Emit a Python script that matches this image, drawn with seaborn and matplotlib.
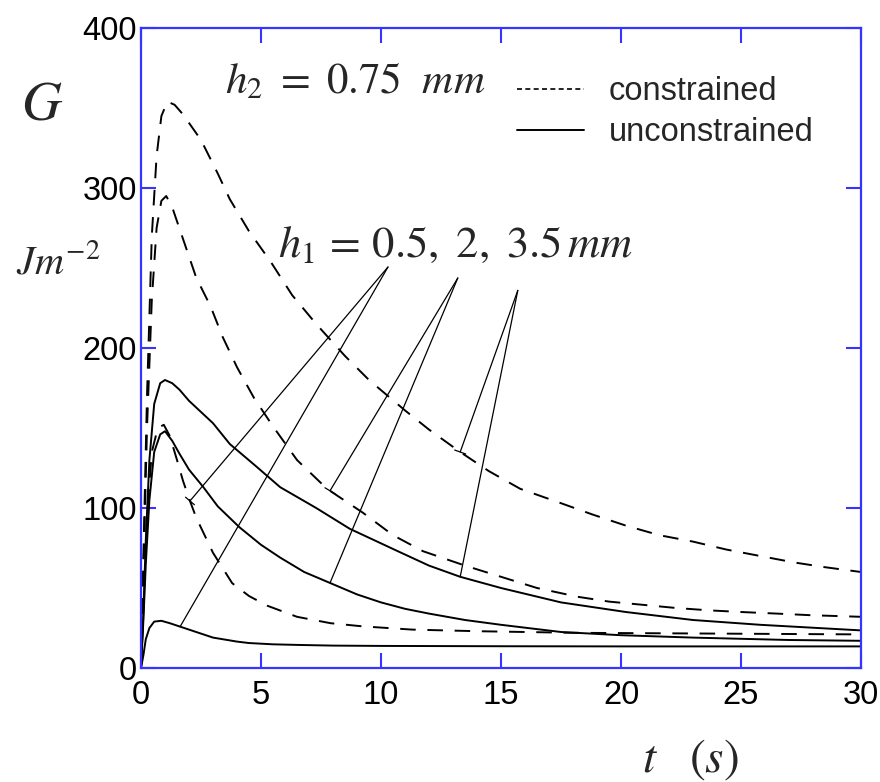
import numpy as np
import pandas as pd
import matplotlib
matplotlib.use("Agg")
import matplotlib.pyplot as plt
from matplotlib.lines import Line2D
import seaborn as sns

# Energy release rate G (J/m^2) versus time t (s), h2 = 0.75 mm
# constrained (dashed) and unconstrained (solid) cases for h1 = 0.5, 2, 3.5 mm

t_c35 = [0, 0.1, 0.25, 0.45, 0.65, 0.85, 1.1, 1.4, 1.75, 2.5, 3.2, 3.7, 4.5, 5.4, 6.3, 7.3,
         8.5, 9.5, 11, 12, 13.3, 14.5, 15.8, 17.5, 18.8, 20.2, 21.6, 23, 24.4, 25.8, 27.2, 28.5, 30]
g_c35 = [0, 70, 170, 270, 320, 345, 354, 352, 346, 330, 309, 293, 273, 254, 233, 215,
         195, 180, 161, 149, 135, 123, 112, 103, 96, 89, 83, 79, 74, 70, 66, 63, 60]

t_c20 = [0, 0.1, 0.25, 0.45, 0.65, 0.85, 1.05, 1.3, 1.8, 2.3, 2.9, 3.4, 4, 4.7, 5.5, 6.5, 7.75,
         9.25, 10.5, 11.75, 13.5, 15, 16.5, 18.2, 19.5, 20.9, 22.3, 23.7, 25, 26.5, 27.9, 30]
g_c20 = [0, 60, 150, 230, 275, 292, 295, 288, 266, 244, 226, 207, 188, 169, 151, 130, 112,
         97, 83, 73, 64, 57, 50, 44.5, 41.5, 39.5, 37.5, 36, 35, 34, 33, 32]

t_c05 = [0, 0.1, 0.25, 0.45, 0.7, 0.95, 1.2, 1.5, 1.75, 2.0, 2.3, 3.0, 3.8, 4.5, 5.25, 6.5,
         7.9, 9.25, 11.3, 14, 18, 24, 30]
g_c05 = [0, 40, 95, 135, 150, 152, 145, 130, 117, 106, 94, 72, 53, 45, 39, 32,
         28, 26, 24, 23, 22, 21.5, 21]

t_u35 = [0, 0.1, 0.2, 0.35, 0.55, 0.8, 1.0, 1.3, 1.6, 2.0, 2.5, 3.0, 3.7, 4.8, 5.8, 7.3, 8.7,
         10.7, 12, 13.3, 15, 17.5, 20.2, 23, 25.8, 30]
g_u35 = [0, 35, 80, 130, 165, 178, 180, 178, 174, 167, 160, 153, 140, 126, 113, 100, 87,
         73, 64, 57, 50, 41, 35, 30, 27, 23.5]

t_u20 = [0, 0.1, 0.2, 0.35, 0.55, 0.8, 1.0, 1.3, 1.6, 2.0, 2.6, 3.2, 4.1, 5, 5.8, 6.8, 7.9,
         9, 10, 11, 12, 13.5, 15, 17.5, 20, 23, 27, 30]
g_u20 = [0, 30, 65, 105, 135, 146, 148, 142, 134, 124, 113, 101, 88, 77, 69, 60, 53,
         46, 41, 37, 34, 30, 27, 22.5, 20.5, 19, 17.5, 17]

t_u05 = [0, 0.1, 0.2, 0.35, 0.55, 0.85, 1.2, 1.6, 2.2, 3, 4, 4.5, 5.5, 6.6, 8, 10, 15, 20, 30]
g_u05 = [0, 8, 18, 25, 29, 29.5, 28, 26, 23, 19, 16.5, 15.6, 14.8, 14.4, 14, 13.8, 13.6, 13.5, 13.5]

x_ticks = [0, 5, 10, 15, 20, 25, 30]
y_ticks = [0, 100, 200, 300, 400]

curves = [
    ("3.5", "constrained", t_c35, g_c35),
    ("2", "constrained", t_c20, g_c20),
    ("0.5", "constrained", t_c05, g_c05),
    ("3.5", "unconstrained", t_u35, g_u35),
    ("2", "unconstrained", t_u20, g_u20),
    ("0.5", "unconstrained", t_u05, g_u05),
]
frames = [pd.DataFrame({"t": t, "G": g, "h1": h, "case": c}) for h, c, t, g in curves]
df = pd.concat(frames, ignore_index=True)

sns.set_theme(style="ticks")
plt.rcParams["font.family"] = ["Liberation Sans", "DejaVu Sans"]
plt.rcParams["mathtext.fontset"] = "stix"

AXIS_BLUE = "#3535ff"

fig = plt.figure(figsize=(8.8, 7.82), dpi=100)
ax = fig.add_axes([141 / 880, 1 - 668 / 782, 720 / 880, 640 / 782])

for (h, c), sub in df.groupby(["h1", "case"], sort=False):
    dashed = c == "constrained"
    sns.lineplot(data=sub, x="t", y="G", ax=ax, color="black", estimator=None,
                 sort=False, lw=1.4, linestyle=(0, (8, 6)) if dashed else "-",
                 legend=False)

ax.set_xlim(0, 30)
ax.set_ylim(0, 400)
ax.set_xticks(x_ticks)
ax.set_yticks(y_ticks)
ax.set_xlabel("")
ax.set_ylabel("")
for sp in ax.spines.values():
    sp.set_visible(True)
    sp.set_color(AXIS_BLUE)
    sp.set_linewidth(1.6)
ax.tick_params(direction="in", length=11, width=1.5, color=AXIS_BLUE,
               top=True, right=True, labelsize=23.5, labelcolor="black")
ax.tick_params(axis="x", pad=9)
ax.tick_params(axis="y", pad=3)

# pointer lines from the h1 label to each pair of curves
def gval(t, g, x):
    return float(np.interp(x, t, g))

pointers = [
    ((10.29, 250.6), [(2.04, t_c05, g_c05, True), (1.63, t_u05, g_u05, False)]),
    ((13.2, 243.75), [(7.875, t_c20, g_c20, True), (7.875, t_u20, g_u20, False)]),
    ((15.7, 236.0), [(13.3, t_c35, g_c35, True), (13.3, t_u35, g_u35, False)]),
]
for apex, targets in pointers:
    for x_end, tt, gg, bar in targets:
        style = "-[, widthB=0.35, lengthB=0" if bar else "-"
        ax.annotate("", xy=(x_end, gval(tt, gg, x_end)), xytext=apex,
                    arrowprops=dict(arrowstyle=style, lw=0.9, color="black",
                                    shrinkA=0, shrinkB=0))

ax.text(3.5, 359, r"$h_2\ =\ 0.75\ \ mm$", fontsize=31, ha="left", va="baseline")
ax.text(5.7, 257, r"$h_1\, =\, 0.5,\ 2,\ 3.5\,mm$", fontsize=32, ha="left", va="baseline")

fig.text(42 / 880, 1 - 105 / 782, r"$G$", fontsize=40, ha="center", va="center")
fig.text(58 / 880, 1 - 262 / 782, r"$Jm^{-2}$", fontsize=29, ha="center", va="center")
fig.text(690 / 880, 1 - 760 / 782, r"$t\ \ \ (s)$", fontsize=34, ha="center", va="center")

handles = [Line2D([], [], color="black", lw=1.2, linestyle=(0, (3, 2))),
           Line2D([], [], color="black", lw=1.4, linestyle="-")]
ax.legend(handles, ["constrained", "unconstrained"], loc="upper left",
          bbox_to_anchor=(517 / 880, 1 - 76 / 782), bbox_transform=fig.transFigure,
          frameon=False, fontsize=23.5, handlelength=2.05, handletextpad=0.75,
          borderpad=0, borderaxespad=0, labelspacing=0.32)

fig.savefig("out.png", dpi=100)
